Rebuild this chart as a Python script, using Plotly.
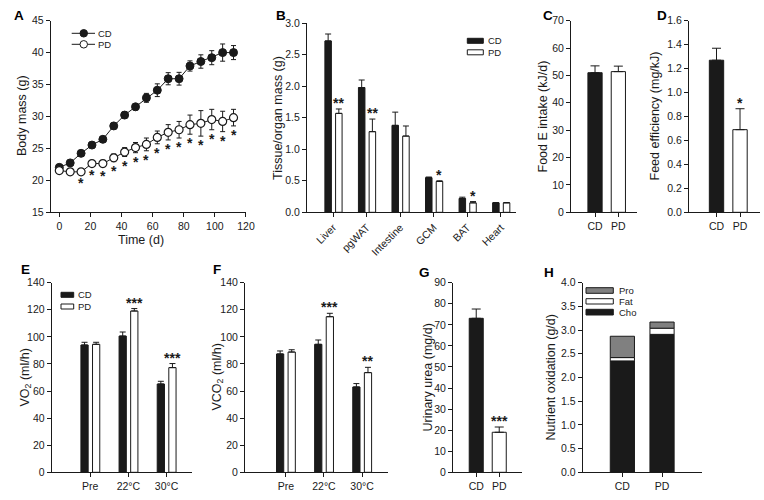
import plotly.graph_objects as go

W, H = 764, 500
FONT = "Liberation Sans, Arial, Helvetica, sans-serif"
INK = "#1a1a1a"
GRAY = "#808080"


def fx(px):
    return px / W


def fy(py):
    return 1 - py / H


# ---------------- data ----------------
# A: body mass over time
days = [0, 7, 14, 21, 28, 35, 42, 49, 56, 63, 70, 77, 84, 91, 98, 105, 112]
cd_mass = [22.0, 22.7, 24.2, 25.5, 26.4, 28.5, 30.2, 31.5, 32.9, 34.1, 35.9, 35.9, 37.9, 38.6, 39.2, 40.0, 40.0]
cd_mass_err = [0.3, 0.4, 0.4, 0.4, 0.4, 0.5, 0.5, 0.5, 0.7, 1.0, 0.95, 1.0, 0.8, 1.05, 1.1, 1.35, 1.1]
pd_mass = [21.5, 21.3, 21.3, 22.6, 22.6, 23.5, 24.4, 25.1, 25.6, 26.7, 27.5, 27.9, 28.7, 28.9, 29.5, 29.2, 29.8]
pd_mass_err = [0.3, 0.3, 0.3, 0.4, 0.5, 0.6, 0.7, 0.8, 1.0, 1.0, 1.2, 1.3, 1.5, 2.0, 1.6, 1.6, 1.3]
pd_mass_sig = ["", "", "*", "*", "*", "*", "*", "*", "*", "*", "*", "*", "*", "*", "*", "*", "*"]

# B: tissue / organ mass
tissues = ["Liver", "pgWAT", "Intestine", "GCM", "BAT", "Heart"]
cd_tissue = [2.72, 1.98, 1.38, 0.55, 0.22, 0.15]
cd_tissue_err = [0.11, 0.12, 0.21, 0.01, 0.02, 0.005]
pd_tissue = [1.57, 1.28, 1.21, 0.49, 0.15, 0.15]
pd_tissue_err = [0.07, 0.20, 0.16, 0.01, 0.02, 0.005]
pd_tissue_sig = ["**", "**", "", "*", "*", ""]

# C, D, G: two-group panels
groups = ["CD", "PD"]
food_intake = [51.0, 51.4]
food_intake_err = [2.5, 2.0]
food_intake_sig = ["", ""]
feed_eff = [1.27, 0.69]
feed_eff_err = [0.10, 0.175]
feed_eff_sig = ["", "*"]
urea = [73.1, 19.0]
urea_err = [4.4, 2.5]
urea_sig = ["", "***"]

# E, F: respiratory gas exchange
conditions = ["Pre", "22°C", "30°C"]
vo2_cd = [94.0, 100.6, 65.2]
vo2_cd_err = [2.0, 3.0, 2.0]
vo2_pd = [94.5, 119.1, 77.3]
vo2_pd_err = [1.5, 1.8, 3.0]
vo2_sig = ["", "***", "***"]
vco2_cd = [87.4, 94.5, 63.0]
vco2_cd_err = [2.2, 3.2, 2.5]
vco2_pd = [88.8, 114.9, 73.6]
vco2_pd_err = [1.7, 2.5, 3.9]
vco2_sig = ["", "***", "**"]

# H: nutrient oxidation (stacked)
ox_cho = [2.35, 2.91]
ox_fat = [0.07, 0.13]
ox_pro = [0.45, 0.13]

# ---------------- figure ----------------
fig = go.Figure()
annotations = []
shapes = []
STAR = dict(family=FONT, size=14, color=INK)


def err_up(arr, cap):
    return dict(type="data", array=arr, arrayminus=[0] * len(arr), symmetric=False,
                color=INK, thickness=1, width=cap)


# A
fig.add_trace(go.Scatter(
    x=days, y=cd_mass, mode="lines+markers", name="CD", xaxis="x", yaxis="y",
    line=dict(color=INK, width=1),
    marker=dict(symbol="circle", size=8, color=INK, line=dict(color=INK, width=1)),
    error_y=dict(type="data", array=cd_mass_err, color=INK, thickness=1, width=2.5),
    showlegend=False))
fig.add_trace(go.Scatter(
    x=days, y=pd_mass, mode="lines+markers", name="PD", xaxis="x", yaxis="y",
    line=dict(color=INK, width=1),
    marker=dict(symbol="circle", size=8, color="white", line=dict(color=INK, width=1.2)),
    error_y=dict(type="data", array=pd_mass_err, color=INK, thickness=1, width=2.5),
    showlegend=False))
for d, v, e, s in zip(days, pd_mass, pd_mass_err, pd_mass_sig):
    if s:
        annotations.append(dict(x=d, y=v - e, xref="x", yref="y", text="<b>%s</b>" % s, showarrow=False,
                                yanchor="top", yshift=1, font=STAR))

# grouped bar geometry (axis units)
B_OFF_CD, B_OFF_PD, B_W = -0.247, 0.072, 0.194
E_OFF_CD, E_OFF_PD, E_W = -0.244, 0.06, 0.19
SINGLE_W = 0.61

# B
xb = list(range(len(tissues)))
fig.add_trace(go.Bar(x=xb, y=cd_tissue, name="CD", xaxis="x2", yaxis="y2",
                     offset=B_OFF_CD, width=B_W,
                     marker=dict(color=INK, line=dict(color=INK, width=1)),
                     error_y=err_up(cd_tissue_err, 3), showlegend=False))
fig.add_trace(go.Bar(x=xb, y=pd_tissue, name="PD", xaxis="x2", yaxis="y2",
                     offset=B_OFF_PD, width=B_W,
                     marker=dict(color="white", line=dict(color=INK, width=1)),
                     error_y=err_up(pd_tissue_err, 3), showlegend=False))
for i, (v, e, s) in enumerate(zip(pd_tissue, pd_tissue_err, pd_tissue_sig)):
    if s:
        annotations.append(dict(x=i + B_OFF_PD + B_W / 2, y=v + e, xref="x2", yref="y2",
                                text="<b>%s</b>" % s, showarrow=False, yanchor="bottom", yshift=-4,
                                font=STAR))


# two-group single bar panels
def two_bar(vals, errs, sigs, xa, ya, cap):
    xs = list(range(len(groups)))
    fig.add_trace(go.Bar(x=xs, y=vals, xaxis=xa, yaxis=ya, width=SINGLE_W,
                         marker=dict(color=[INK, "white"], line=dict(color=INK, width=1)),
                         error_y=err_up(errs, cap), showlegend=False, name="value"))
    for i, (v, e, s) in enumerate(zip(vals, errs, sigs)):
        if s:
            annotations.append(dict(x=i, y=v + e, xref=xa, yref=ya, text="<b>%s</b>" % s,
                                    showarrow=False, yanchor="bottom", yshift=-4, font=STAR))


two_bar(food_intake, food_intake_err, food_intake_sig, "x3", "y3", 4.5)
two_bar(feed_eff, feed_eff_err, feed_eff_sig, "x4", "y4", 4.5)
two_bar(urea, urea_err, urea_sig, "x7", "y7", 4.5)


# E, F
def gas_panel(cd, cde, pd, pde, sig, xa, ya):
    xs = list(range(len(conditions)))
    fig.add_trace(go.Bar(x=xs, y=cd, name="CD", xaxis=xa, yaxis=ya, offset=E_OFF_CD, width=E_W,
                         marker=dict(color=INK, line=dict(color=INK, width=1)),
                         error_y=err_up(cde, 3), showlegend=False))
    fig.add_trace(go.Bar(x=xs, y=pd, name="PD", xaxis=xa, yaxis=ya, offset=E_OFF_PD, width=E_W,
                         marker=dict(color="white", line=dict(color=INK, width=1)),
                         error_y=err_up(pde, 3), showlegend=False))
    for i, (v, e, s) in enumerate(zip(pd, pde, sig)):
        if s:
            annotations.append(dict(x=i + E_OFF_PD + E_W / 2, y=v + e, xref=xa, yref=ya,
                                    text="<b>%s</b>" % s, showarrow=False, yanchor="bottom",
                                    yshift=-4, font=STAR))


gas_panel(vo2_cd, vo2_cd_err, vo2_pd, vo2_pd_err, vo2_sig, "x5", "y5")
gas_panel(vco2_cd, vco2_cd_err, vco2_pd, vco2_pd_err, vco2_sig, "x6", "y6")

# H stacked via base
xh = list(range(len(groups)))
base_fat = ox_cho
base_pro = [c + f for c, f in zip(ox_cho, ox_fat)]
fig.add_trace(go.Bar(x=xh, y=ox_cho, name="Cho", xaxis="x8", yaxis="y8", width=SINGLE_W,
                     marker=dict(color=INK, line=dict(color=INK, width=1)), showlegend=False))
fig.add_trace(go.Bar(x=xh, y=ox_fat, base=base_fat, name="Fat", xaxis="x8", yaxis="y8", width=SINGLE_W,
                     marker=dict(color="white", line=dict(color=INK, width=1)), showlegend=False))
fig.add_trace(go.Bar(x=xh, y=ox_pro, base=base_pro, name="Pro", xaxis="x8", yaxis="y8", width=SINGLE_W,
                     marker=dict(color=GRAY, line=dict(color=INK, width=1)), showlegend=False))

# ---------------- axes ----------------
def ax(**kw):
    d = dict(showgrid=False, zeroline=False, showline=True, linecolor=INK, linewidth=1,
             ticks="outside", ticklen=4, tickwidth=1, tickcolor=INK,
             tickfont=dict(family=FONT, size=10.5, color=INK), fixedrange=True, automargin=False)
    d.update(kw)
    return d


TOP_Y = [fy(212.3), fy(20.7)]
BOT_Y = [fy(472.3), fy(282.7)]

layout_axes = dict(
    xaxis=ax(domain=[fx(50.7), fx(246)], range=[-5.53, 120.02], tick0=0, dtick=20, anchor="y"),
    yaxis=ax(domain=[fy(212), fy(20.7)], range=[15, 45], dtick=5, anchor="x"),
    xaxis2=ax(domain=[fx(307), fx(516)], range=[-0.78, 5.45], tickvals=xb, ticktext=tissues,
              tickangle=-45, anchor="y2"),
    yaxis2=ax(domain=[fy(212.3), fy(23.3)], range=[0, 3], dtick=0.5, tickformat=".1f", anchor="x2"),
    xaxis3=ax(domain=[fx(571), fx(637)], range=[-1.03, 1.8], tickvals=[0, 1], ticktext=groups, anchor="y3"),
    yaxis3=ax(domain=TOP_Y, range=[0, 70], dtick=10, anchor="x3"),
    xaxis4=ax(domain=[fx(689), fx(760)], range=[-1.17, 1.85], tickvals=[0, 1], ticktext=groups, anchor="y4"),
    yaxis4=ax(domain=TOP_Y, range=[0, 1.6], dtick=0.2, tickformat=".1f", anchor="x4"),
    xaxis5=ax(domain=[fx(51.7), fx(191.7)], range=[-1.01, 2.66], tickvals=[0, 1, 2], ticktext=conditions, anchor="y5"),
    yaxis5=ax(domain=BOT_Y, range=[0, 140], dtick=20, anchor="x5"),
    xaxis6=ax(domain=[fx(245), fx(388)], range=[-1.07, 2.68], tickvals=[0, 1, 2], ticktext=conditions, anchor="y6"),
    yaxis6=ax(domain=BOT_Y, range=[0, 140], dtick=20, anchor="x6"),
    xaxis7=ax(domain=[fx(453), fx(522)], range=[-1.01, 1.99], tickvals=[0, 1], ticktext=groups, anchor="y7"),
    yaxis7=ax(domain=BOT_Y, range=[0, 90], dtick=10, anchor="x7"),
    xaxis8=ax(domain=[fx(582.7), fx(701.7)], range=[-1, 2], tickvals=[0, 1], ticktext=groups, anchor="y8"),
    yaxis8=ax(domain=BOT_Y, range=[0, 4], dtick=0.5, tickformat=".1f", anchor="x8"),
)

# ---------------- titles & panel letters ----------------
TF = dict(family=FONT, size=12.5, color=INK)


def ytitle(text, x, y):
    annotations.append(dict(x=fx(x), y=fy(y), xref="paper", yref="paper", text=text, textangle=-90,
                            showarrow=False, xanchor="center", yanchor="middle", font=TF))


ytitle("Body mass (g)", 22, 116)
ytitle("Tissue/organ mass (g)", 278, 118)
ytitle("Food E intake (kJ/d)", 543, 116.5)
ytitle("Feed efficiency (mg/kJ)", 655, 116.5)
ytitle("VO<sub>2</sub> (ml/h)", 25, 377.5)
ytitle("VCO<sub>2</sub> (ml/h)", 217, 377.5)
ytitle("Urinary urea (mg/d)", 427, 377.5)
ytitle("Nutrient oxidation (g/d)", 550, 377.5)
annotations.append(dict(x=fx(141), y=fy(239.5), xref="paper", yref="paper", text="Time (d)",
                        showarrow=False, xanchor="center", yanchor="middle", font=TF))

for letter, x, y in [("A", 19, 15), ("B", 281, 15), ("C", 548, 15), ("D", 662, 15),
                     ("E", 25, 269.5), ("F", 217, 269.5), ("G", 425, 272.5), ("H", 549, 272.5)]:
    annotations.append(dict(x=fx(x), y=fy(y), xref="paper", yref="paper", text="<b>%s</b>" % letter,
                            showarrow=False, xanchor="center", yanchor="middle",
                            font=dict(family=FONT, size=13.5, color="#000")))

# ---------------- legends (drawn) ----------------
LF = dict(family=FONT, size=9.5, color=INK)


def legend_text(text, x, y):
    annotations.append(dict(x=fx(x), y=fy(y), xref="paper", yref="paper", text=text, showarrow=False,
                            xanchor="left", yanchor="middle", font=LF))


def rect(x0, y0, x1, y1, fill):
    shapes.append(dict(type="rect", xref="paper", yref="paper", x0=fx(x0), x1=fx(x1), y0=fy(y1), y1=fy(y0),
                       fillcolor=fill, line=dict(color=INK, width=1)))


# A legend
for lbl, yy, fill in [("CD", 33.3, INK), ("PD", 44.3, "white")]:
    shapes.append(dict(type="line", xref="paper", yref="paper", x0=fx(71.7), x1=fx(95), y0=fy(yy), y1=fy(yy),
                       line=dict(color=INK, width=1)))
    shapes.append(dict(type="circle", xref="paper", yref="paper", x0=fx(80), x1=fx(87.5),
                       y0=fy(yy + 3.75), y1=fy(yy - 3.75), fillcolor=fill, line=dict(color=INK, width=1)))
    legend_text(lbl, 96.5, yy)

# B legend
rect(467.3, 38.3, 483.3, 43.3, INK)
rect(467.3, 49.8, 483.3, 54.8, "white")
legend_text("CD", 486, 40.8)
legend_text("PD", 486, 52.3)

# E legend
rect(61, 292.3, 73.7, 297.3, INK)
rect(61, 304, 73.7, 309, "white")
legend_text("CD", 76, 294.8)
legend_text("PD", 76, 306.5)

# H legend
rect(586, 287.7, 613.3, 293.3, GRAY)
rect(586, 298.7, 613.3, 304, "white")
rect(586, 309.3, 613.3, 315, INK)
legend_text("Pro", 617.3, 290.5)
legend_text("Fat", 617.3, 301.4)
legend_text("Cho", 617.3, 312.2)

fig.update_layout(
    width=W, height=H,
    autosize=False,
    margin=dict(l=0, r=0, t=0, b=0, pad=0, autoexpand=False),
    paper_bgcolor="white", plot_bgcolor="white",
    barmode="overlay",
    font=dict(family=FONT, size=10, color=INK),
    annotations=annotations,
    shapes=shapes,
    showlegend=False,
    **layout_axes,
)

fig.write_html("out.html", config={"displayModeBar": False},
               post_script="document.body.style.margin='0';document.body.style.overflow='hidden';")
